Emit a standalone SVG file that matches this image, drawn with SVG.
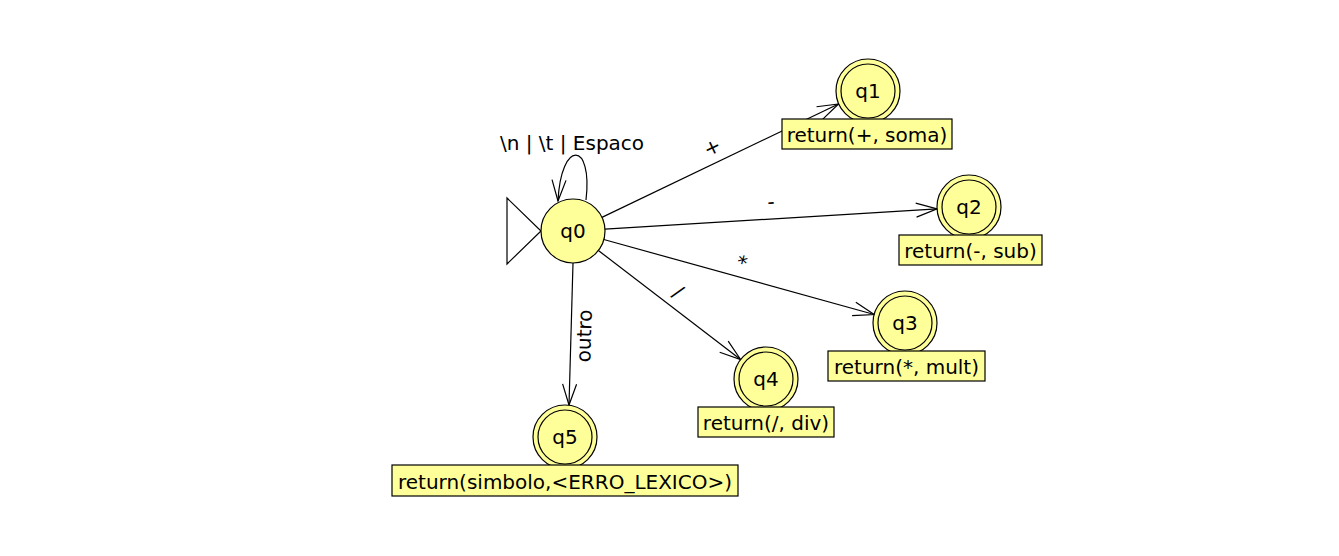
<svg xmlns="http://www.w3.org/2000/svg" width="1339" height="556" viewBox="0 0 1339 556">
  <style>
    text { font-family: "DejaVu Sans", "Liberation Sans", sans-serif; font-size: 20px; fill: #000; }
    .state { fill: #ffff99; stroke: #000; stroke-width: 1.2; }
    .inner { fill: none; stroke: #000; stroke-width: 1.2; }
    .box { fill: #ffff99; stroke: #000; stroke-width: 1.2; }
    .edge { fill: none; stroke: #000; stroke-width: 1.2; marker-end: url(#arrow); }
    .start { fill: #fff; stroke: #000; stroke-width: 1.2; }
    .c { text-anchor: middle; }
  </style>
  <defs>
    <marker id="arrow" markerUnits="userSpaceOnUse" markerWidth="24" markerHeight="18" viewBox="-22 -9 24 18" refX="0" refY="0" orient="auto">
      <path d="M -21 -7 L 0 0 L -21 7" fill="none" stroke="#000" stroke-width="1.2"/>
    </marker>
  </defs>

  <rect width="1339" height="556" fill="#fff"/>

  <!-- transitions -->
  <g id="connectors">
    <path class="edge" d="M 586 200 C 593 141, 561 139, 558 201"/>
    <text class="c" x="572" y="150">\n | \t | Espaco</text>

    <line class="edge" x1="601.9" y1="217.4" x2="838.5" y2="104"/>
    <text class="c" transform="translate(712,147) rotate(-25.2)" y="7">+</text>

    <line class="edge" x1="604.9" y1="229.1" x2="937.1" y2="208.9"/>
    <text class="c" transform="translate(771,203) rotate(-3.5)" y="5.5">-</text>

    <line class="edge" x1="603.8" y1="239.5" x2="874.2" y2="314.5"/>
    <text class="c" transform="translate(743,259) rotate(15.5)" y="11">*</text>

    <line class="edge" x1="598.4" y1="250.5" x2="740.6" y2="359.5"/>
    <text class="c" transform="translate(678,292) rotate(37.5)" y="6.6">/</text>

    <line class="edge" x1="573" y1="263" x2="569" y2="405"/>
    <text class="c" transform="translate(586,336) rotate(-88.4)" y="5">outro</text>
  </g>

  <!-- initial state -->
  <g id="q0">
    <polygon class="start" points="507,198 541,231 507,264"/>
    <circle class="state" cx="573" cy="231" r="32"/>
    <text class="c" x="573" y="238">q0</text>
  </g>

  <g id="q1">
    <circle class="state" cx="868" cy="91" r="32"/>
    <circle class="inner" cx="868" cy="91" r="27"/>
    <text class="c" x="868" y="98">q1</text>
    <rect class="box" x="782" y="119" width="170" height="30"/>
    <text class="c" x="867" y="142">return(+, soma)</text>
  </g>

  <g id="q2">
    <circle class="state" cx="969" cy="207" r="32"/>
    <circle class="inner" cx="969" cy="207" r="27"/>
    <text class="c" x="969" y="214">q2</text>
    <rect class="box" x="899" y="235" width="143" height="30"/>
    <text class="c" x="970.5" y="258">return(-, sub)</text>
  </g>

  <g id="q3">
    <circle class="state" cx="905" cy="323" r="32"/>
    <circle class="inner" cx="905" cy="323" r="27"/>
    <text class="c" x="905" y="330">q3</text>
    <rect class="box" x="828" y="351" width="157" height="30"/>
    <text class="c" x="906.5" y="374">return(*, mult)</text>
  </g>

  <g id="q4">
    <circle class="state" cx="766" cy="379" r="32"/>
    <circle class="inner" cx="766" cy="379" r="27"/>
    <text class="c" x="766" y="386">q4</text>
    <rect class="box" x="698" y="407" width="136" height="30"/>
    <text class="c" x="766" y="430">return(/, div)</text>
  </g>

  <g id="q5">
    <circle class="state" cx="565" cy="437" r="32"/>
    <circle class="inner" cx="565" cy="437" r="27"/>
    <text class="c" x="565" y="444">q5</text>
    <rect class="box" x="392" y="465" width="346" height="31"/>
    <text class="c" x="565" y="489">return(simbolo,&lt;ERRO_LEXICO&gt;)</text>
  </g>
</svg>
